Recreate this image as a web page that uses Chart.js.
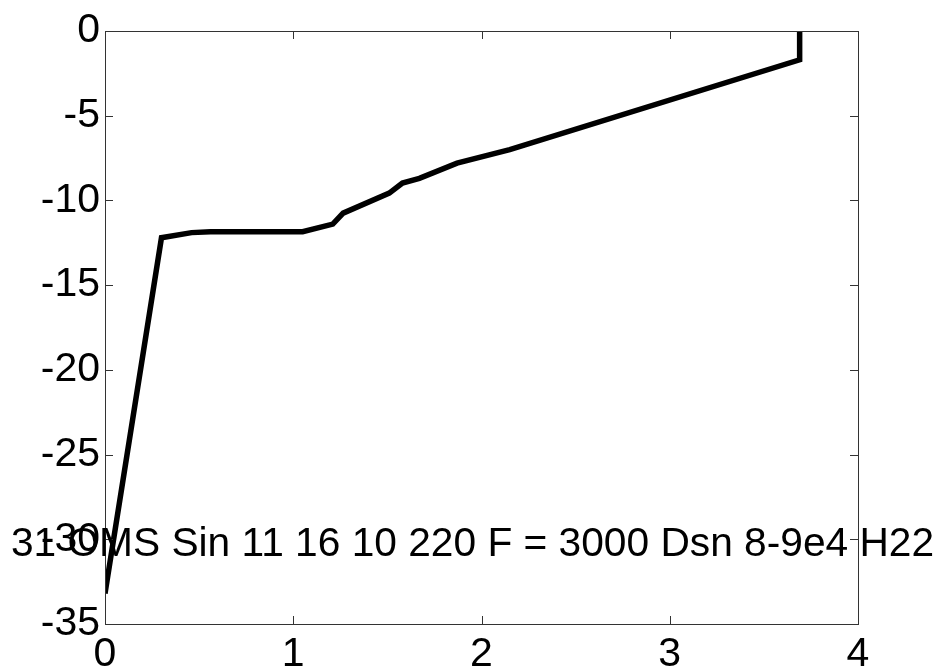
<!DOCTYPE html>
<html>
<head>
<meta charset="utf-8">
<title>profile</title>
<script src="https://cdn.jsdelivr.net/npm/chart.js@4/dist/chart.umd.min.js"></script>
<style>
  html, body { margin: 0; padding: 0; background: #fff; }
  #wrap { width: 944px; height: 667px; }
</style>
</head>
<body>
<div id="wrap"><canvas id="profileChart"></canvas></div>
<script>
// values
const xValues = [0, 0.30, 0.46, 0.56, 1.05, 1.21, 1.265, 1.51, 1.58, 1.67, 1.87, 2.15, 3.69, 3.69];
const yValues = [-33.2, -12.2, -11.9, -11.85, -11.85, -11.4, -10.75, -9.57, -8.97, -8.7, -7.8, -7.0, -1.7, 0];
const xTicks = [0, 1, 2, 3, 4];
const yTicks = [0, -5, -10, -15, -20, -25, -30, -35];
const noteText = '31 OMS Sin 11 16 10 220 F = 3000 Dsn 8-9e4 H22';
const notePos = [-0.5, -30.3];

const points = xValues.map((x, i) => ({ x: x, y: yValues[i] }));

Chart.defaults.font.family = '"Liberation Sans", Arial, sans-serif';
Chart.defaults.font.size = 41;
Chart.defaults.color = '#000';

// matlab style box with inward ticks
const boxTicks = {
  id: 'boxTicks',
  afterDatasetsDraw(chart) {
    const { ctx, chartArea: a, scales } = chart;
    const len = 8;
    ctx.save();
    ctx.strokeStyle = '#333';
    ctx.lineWidth = 1;
    ctx.strokeRect(a.left + 0.5, a.top + 0.5, a.right - a.left, a.bottom - a.top);
    ctx.beginPath();
    xTicks.forEach(v => {
      const px = Math.round(scales.x.getPixelForValue(v)) + 0.5;
      ctx.moveTo(px, a.bottom); ctx.lineTo(px, a.bottom - len);
      ctx.moveTo(px, a.top); ctx.lineTo(px, a.top + len);
    });
    yTicks.forEach(v => {
      const py = Math.round(scales.y.getPixelForValue(v)) + 0.5;
      ctx.moveTo(a.left, py); ctx.lineTo(a.left + len, py);
      ctx.moveTo(a.right, py); ctx.lineTo(a.right - len, py);
    });
    ctx.stroke();
    ctx.restore();
  },
  afterDraw(chart) {
    const { ctx, scales } = chart;
    ctx.save();
    ctx.font = '40.7px "Liberation Sans", Arial, sans-serif';
    ctx.fillStyle = '#000';
    ctx.textAlign = 'left';
    ctx.textBaseline = 'middle';
    ctx.fillText(noteText, scales.x.getPixelForValue(notePos[0]), scales.y.getPixelForValue(notePos[1]));
    ctx.restore();
  }
};

new Chart(document.getElementById('profileChart'), {
  type: 'line',
  data: {
    datasets: [{
      data: points,
      borderColor: '#000',
      borderWidth: 5.5,
      pointRadius: 0,
      tension: 0,
      fill: false
    }]
  },
  options: {
    responsive: true,
    maintainAspectRatio: false,
    animation: false,
    layout: { padding: { left: 0, top: 31, right: 86, bottom: 0 } },
    plugins: { legend: { display: false }, tooltip: { enabled: false } },
    scales: {
      x: {
        type: 'linear',
        min: 0, max: 4,
        afterFit: s => { s.height = 43; },
        afterBuildTicks: s => { s.ticks = xTicks.map(v => ({ value: v })); },
        grid: { display: false, drawTicks: false },
        border: { display: false },
        ticks: { padding: 6, maxRotation: 0 }
      },
      y: {
        type: 'linear',
        min: -35, max: 0,
        afterFit: s => { s.width = 105; },
        afterBuildTicks: s => { s.ticks = yTicks.map(v => ({ value: v })); },
        grid: { display: false, drawTicks: false },
        border: { display: false },
        ticks: { padding: 5 }
      }
    }
  },
  plugins: [boxTicks]
});
</script>
</body>
</html>
